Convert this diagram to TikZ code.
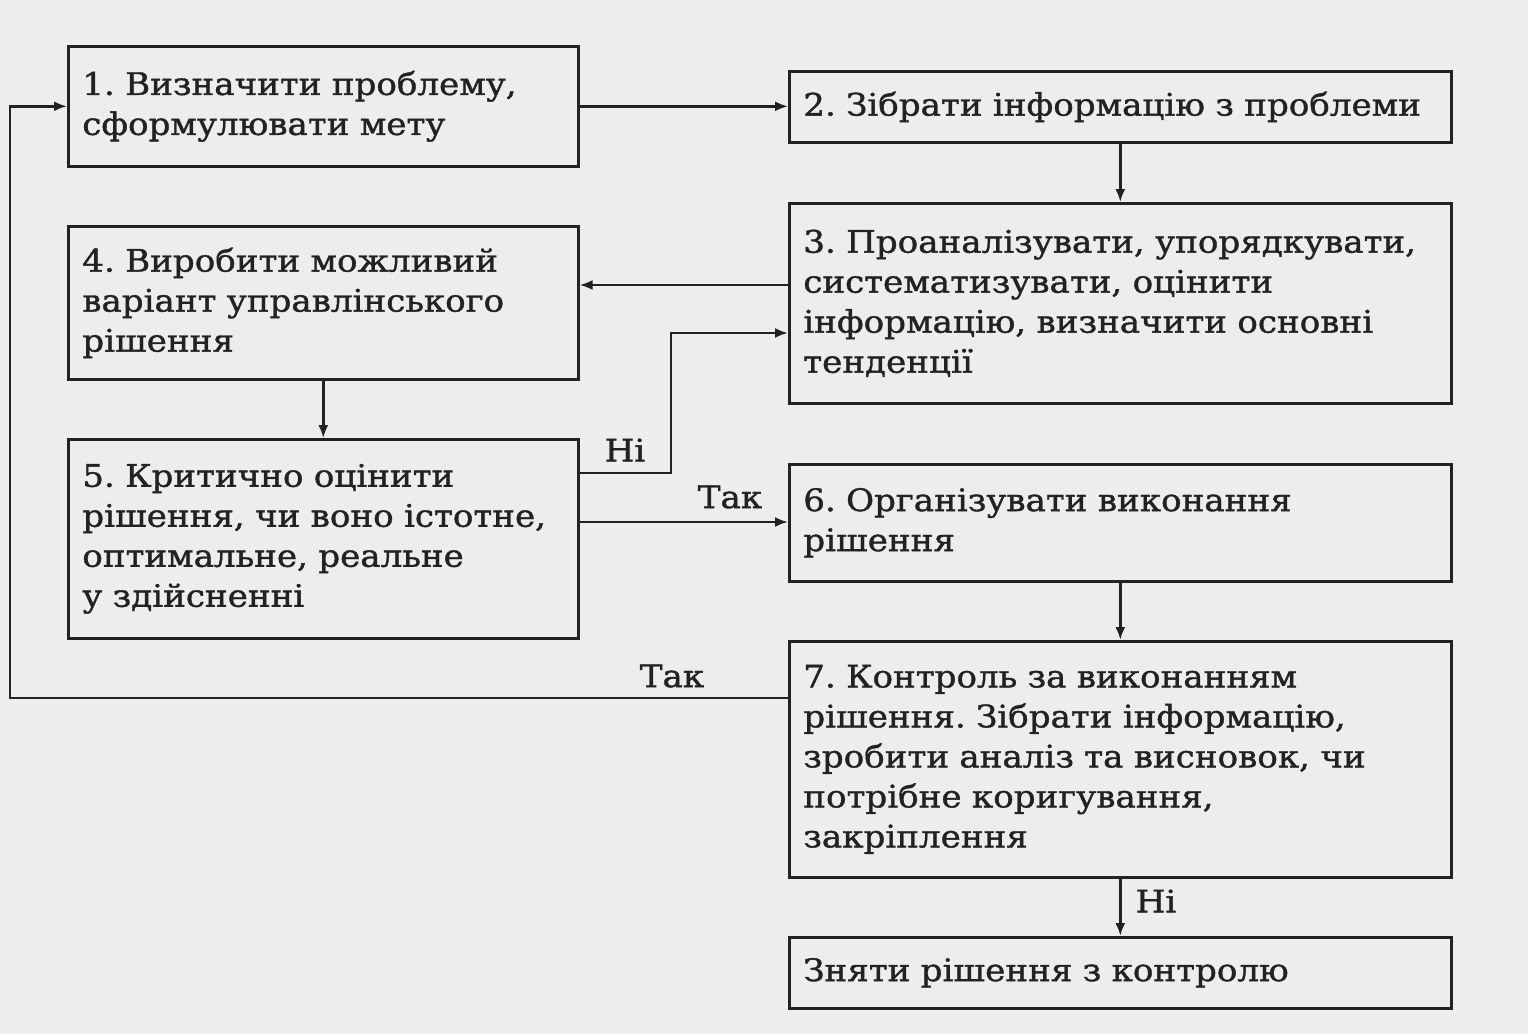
\documentclass[tikz,border=0pt]{standalone}
\usepackage{fontspec}
\setmainfont{DejaVu Serif}[FakeBold=1.2,FakeStretch=1.1]
\usetikzlibrary{arrows.meta}
\definecolor{ink}{HTML}{222222}
\definecolor{paper}{HTML}{EDEDED}
\begin{document}
\frenchspacing
\begin{tikzpicture}[x=1pt,y=-1pt,
  box/.style={draw=ink, line width=2.6pt, rectangle, anchor=north west, align=left,
    inner xsep=14pt, inner ysep=0pt, text=ink, font=\fontsize{31}{40}\selectfont},
  lbl/.style={text=ink, font=\fontsize{31}{36}\selectfont, inner sep=0pt},
  arr/.style={draw=ink, line width=2.4pt, -{Latex[length=13pt,width=10pt]}},
  ln/.style={draw=ink, line width=2.4pt}]
\fill[paper] (0,0) rectangle (1528,1034);
\useasboundingbox (0,0) rectangle (1528,1034);
% left column
\node[box, minimum width=510pt, minimum height=120pt, text width=482pt] (b1) at (67,45)
  {1. Визначити проблему,\\сформулювати мету};
\node[box, minimum width=510pt, minimum height=153pt, text width=482pt] (b4) at (67,225)
  {4. Виробити можливий\\варіант управлінського\\рішення};
\node[box, minimum width=510pt, minimum height=199pt, text width=482pt] (b5) at (67,438)
  {5. Критично оцінити\\рішення, чи воно істотне,\\оптимальне, реальне\\у здійсненні};
% right column
\node[box, minimum width=662pt, minimum height=71pt, text width=634pt] (b2) at (788,70)
  {2. Зібрати інформацію з проблеми};
\node[box, minimum width=662pt, minimum height=200pt, text width=634pt] (b3) at (788,202)
  {3. Проаналізувати, упорядкувати,\\систематизувати, оцінити\\інформацію, визначити основні\\тенденції};
\node[box, minimum width=662pt, minimum height=117pt, text width=634pt] (b6) at (788,463)
  {6. Організувати виконання\\рішення};
\node[box, minimum width=662pt, minimum height=236pt, text width=634pt] (b7) at (788,640)
  {7. Контроль за виконанням\\рішення. Зібрати інформацію,\\зробити аналіз та висновок, чи\\потрібне коригування,\\закріплення};
\node[box, minimum width=662pt, minimum height=71pt, text width=634pt] (b8) at (788,936)
  {Зняти рішення з контролю};
% helper coordinates
\coordinate (lpA) at (10,698);
\coordinate (c34) at (0,285);
\coordinate (niA) at (671,473);
\coordinate (niB) at (671,333);
\coordinate (tak) at (0,522);
% connectors
\draw[arr] (b1.east) -- (b1.east -| b2.west);
\draw[arr] (b2.south) -- (b3.north);
\draw[arr] (b3.west |- c34) -- (b4.east |- c34);
\draw[arr] (b4.south) -- (b5.north -| b4.south);
\draw[arr] (b5.east |- niA) -- (niA) -- (niB) -- (b3.west |- niB);
\draw[arr] (b5.east |- tak) -- (b6.west |- tak);
\draw[arr] (b6.south) -- (b7.north);
\draw[arr] (b7.west |- lpA) -- (lpA) |- (b1.west);
\draw[arr] (b7.south) -- (b8.north);
% labels
\node[lbl] (tNi1) at (625,450) {Ні};
\node[lbl] (tTak1) at (730,497) {Так};
\node[lbl] (tTak2) at (672,676) {Так};
\node[lbl] (tNi2) at (1156,901) {Ні};
\end{tikzpicture}
\end{document}
